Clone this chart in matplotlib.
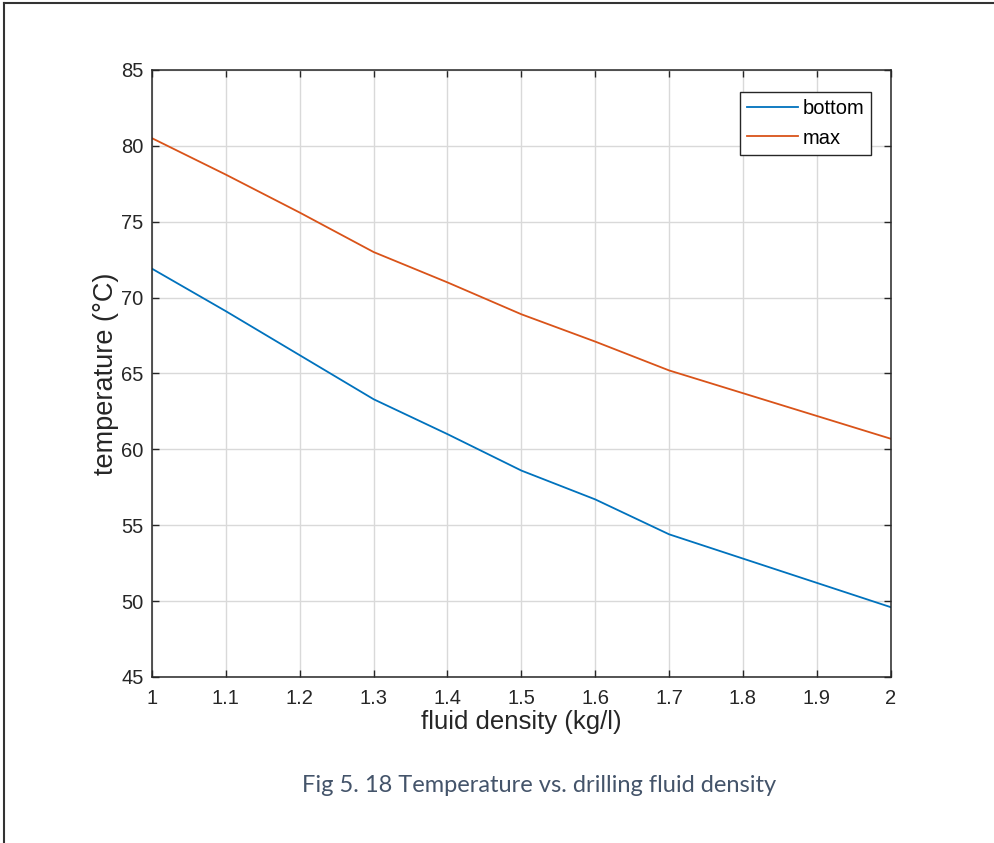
import matplotlib

matplotlib.use("Agg")
import matplotlib.pyplot as plt
from matplotlib.lines import Line2D

# values
density = [1.0, 1.1, 1.2, 1.3, 1.4, 1.5, 1.6, 1.7, 1.8, 1.9, 2.0]
t_bottom = [71.9, 69.1, 66.2, 63.3, 61.0, 58.6, 56.7, 54.4, 52.8, 51.2, 49.6]
t_max = [80.5, 78.1, 75.6, 73.0, 71.0, 68.9, 67.1, 65.2, 63.7, 62.2, 60.7]
x_ticks = [1.0, 1.1, 1.2, 1.3, 1.4, 1.5, 1.6, 1.7, 1.8, 1.9, 2.0]
x_ticklabels = ["1", "1.1", "1.2", "1.3", "1.4", "1.5", "1.6", "1.7", "1.8", "1.9", "2"]
y_ticks = [45, 50, 55, 60, 65, 70, 75, 80, 85]

plt.rcParams["font.family"] = ["Liberation Sans", "DejaVu Sans"]

fig = plt.figure(figsize=(9.94, 8.43), dpi=100)
ax = fig.add_axes([0.153, 0.197, 0.743, 0.720])

ax.plot(density, t_bottom, color="#0072BD", lw=1.3, label="bottom")
ax.plot(density, t_max, color="#D95319", lw=1.3, label="max")

ax.set_xlim(1, 2)
ax.set_ylim(45, 85)
ax.set_xticks(x_ticks)
ax.set_xticklabels(x_ticklabels)
ax.set_yticks(y_ticks)
ax.grid(True, color="#d9d9d9", lw=1.0)
ax.set_axisbelow(True)
for s in ax.spines.values():
    s.set_color("#262626")
    s.set_linewidth(1.1)
ax.tick_params(direction="in", length=5, width=1.0, color="#262626",
               labelcolor="#262626", labelsize=14.5, top=True, right=True)
ax.tick_params(axis="x", pad=9)
ax.tick_params(axis="y", pad=6)
ax.set_xlabel("fluid density (kg/l)", fontsize=18.5, color="#262626", labelpad=1)
ax.set_ylabel("temperature (°C)", fontsize=19.5, color="#262626", labelpad=2)

leg = ax.legend(loc="upper right", bbox_to_anchor=(0.974, 0.963), fontsize=14.5,
                fancybox=False, edgecolor="#262626", framealpha=1,
                handlelength=2.5, borderpad=0.35, labelspacing=0.5,
                handletextpad=0.25, borderaxespad=0)
leg.get_frame().set_linewidth(1.0)

fig.text(0.542, 0.068, "Fig 5. 18 Temperature vs. drilling fluid density",
         fontsize=17, color="#44546A", family=["Lato", "DejaVu Sans"],
         ha="center", va="center")

# page frame: top and left edges only
fig.add_artist(Line2D([0.004, 1.0], [0.997, 0.997], color="#333333", lw=1.5,
                      transform=fig.transFigure))
fig.add_artist(Line2D([0.004, 0.004], [0.0, 0.997], color="#333333", lw=1.5,
                      transform=fig.transFigure))

fig.savefig("out.png", dpi=100)
